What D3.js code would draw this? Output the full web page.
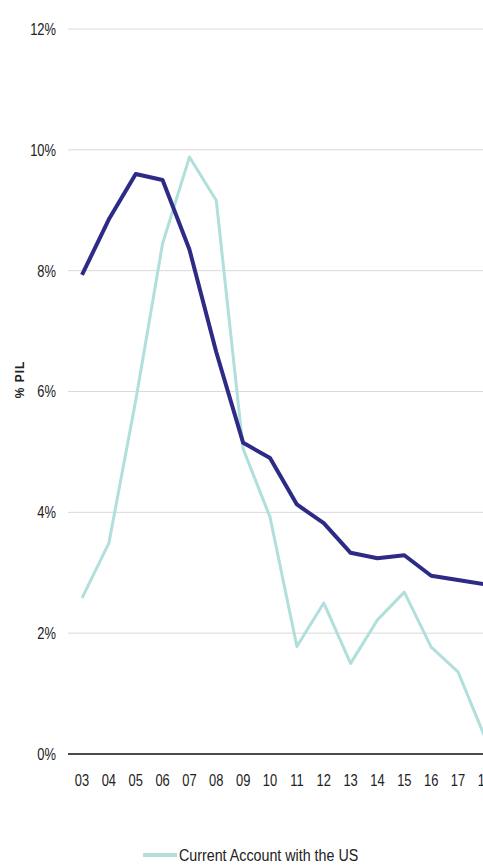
<!DOCTYPE html>
<html>
<head>
<meta charset="utf-8">
<script src="https://cdn.jsdelivr.net/npm/d3@7"></script>
<style>
  body { margin: 0; background: #fff; }
  svg { display: block; font-family: "Liberation Sans", Arial, sans-serif; }
</style>
</head>
<body>
<div id="chart"></div>
<script>
// data
var years = ["03", "04", "05", "06", "07", "08", "09", "10", "11", "12", "13", "14", "15", "16", "17", "18"];
var darkSeries = [7.93, 8.85, 9.6, 9.5, 8.35, 6.65, 5.15, 4.9, 4.13, 3.82, 3.33, 3.24, 3.29, 2.95, 2.88, 2.81];
var usSeries = [2.58, 3.49, 5.85, 8.45, 9.88, 9.16, 5.05, 3.92, 1.78, 2.5, 1.5, 2.22, 2.68, 1.77, 1.36, 0.28];
var yTicks = [0, 2, 4, 6, 8, 10, 12];
var legendLabel = "Current Account with the US";
var yLabel = "% PIL";

window.onload = () => {
  var W = 483, H = 866;
  var margin = { top: 29, right: 0, bottom: 112, left: 68 };
  var squeeze = 0.76; // condensed look of the original labels

  var svg = d3.select("#chart").append("svg")
    .attr("width", W)
    .attr("height", H);

  var x = d3.scalePoint()
    .domain(years)
    .range([82, 82 + 26.86 * (years.length - 1)]);

  var y = d3.scaleLinear()
    .domain([0, 12])
    .range([H - margin.bottom, margin.top]);

  // grid lines
  svg.append("g")
    .selectAll("line")
    .data(yTicks.filter(d => d > 0))
    .join("line")
    .attr("x1", margin.left)
    .attr("x2", W)
    .attr("y1", d => y(d))
    .attr("y2", d => y(d))
    .attr("stroke", "#d9d9d9")
    .attr("stroke-width", 1);

  // y tick labels
  svg.append("g")
    .selectAll("text")
    .data(yTicks)
    .join("text")
    .attr("transform", d => "translate(56," + y(d) + ") scale(" + squeeze + ",1)")
    .attr("dy", "0.35em")
    .attr("text-anchor", "end")
    .attr("font-size", 17)
    .attr("fill", "#222")
    .text(d => d + "%");

  // y label
  svg.append("text")
    .attr("transform", "translate(24," + (y(6) - 12) + ") rotate(-90)")
    .attr("text-anchor", "middle")
    .attr("font-size", 12)
    .attr("font-weight", "bold")
    .attr("letter-spacing", 1)
    .attr("fill", "#222")
    .text(yLabel);

  // x axis
  svg.append("line")
    .attr("x1", margin.left)
    .attr("x2", W)
    .attr("y1", y(0))
    .attr("y2", y(0))
    .attr("stroke", "#111")
    .attr("stroke-width", 1.6);

  svg.append("g")
    .selectAll("text")
    .data(years)
    .join("text")
    .attr("transform", d => "translate(" + x(d) + "," + (y(0) + 32) + ") scale(" + squeeze + ",1)")
    .attr("text-anchor", "middle")
    .attr("font-size", 17)
    .attr("fill", "#222")
    .text(d => d);

  var line = d3.line()
    .x((d, i) => x(years[i]))
    .y(d => y(d));

  svg.append("path")
    .datum(usSeries)
    .attr("d", line)
    .attr("fill", "none")
    .attr("stroke", "#b1dfdb")
    .attr("stroke-width", 3)
    .attr("stroke-linejoin", "round");

  svg.append("path")
    .datum(darkSeries)
    .attr("d", line)
    .attr("fill", "none")
    .attr("stroke", "#2e2b86")
    .attr("stroke-width", 4)
    .attr("stroke-linejoin", "round");

  // legend
  var lg = svg.append("g").attr("transform", "translate(143,855)");
  lg.append("line")
    .attr("x1", 0).attr("x2", 34)
    .attr("stroke", "#b1dfdb")
    .attr("stroke-width", 4);
  lg.append("text")
    .attr("transform", "translate(36,0) scale(0.84,1)")
    .attr("dy", "0.35em")
    .attr("font-size", 17)
    .attr("fill", "#222")
    .text(legendLabel);
};
</script>
</body>
</html>
